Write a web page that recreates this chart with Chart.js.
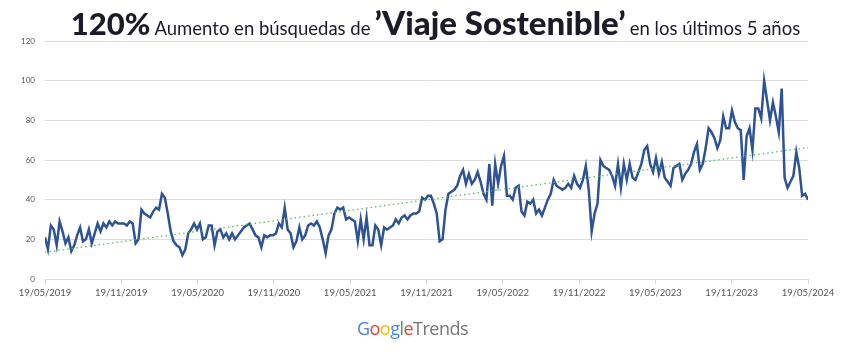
<!DOCTYPE html>
<html>
<head>
<meta charset="utf-8">
<script src="https://cdn.jsdelivr.net/npm/chart.js@4"></script>
<style>
  html, body { margin: 0; padding: 0; background: #ffffff; }
  #wrap { position: relative; width: 855px; height: 357px; overflow: hidden; }
  #title { position: absolute; left: 0; top: 5px; width: 855px; text-align: center; white-space: nowrap;
           font-family: Lato, "Open Sans", sans-serif; color: #1c1c28; line-height: 34px; padding-left: 16px; box-sizing: border-box; }
  #title .big { font-weight: 900; font-size: 31px; }
  #title .vs { font-weight: 900; font-size: 33px; }
  #title .reg { font-weight: 400; font-size: 18.5px; }
  #logo { position: absolute; left: 0; top: 316px; width: 855px; text-align: center;
          font-family: "Open Sans", Lato, sans-serif; font-size: 18px; letter-spacing: -0.5px; padding-right: 30px; box-sizing: border-box; }
  canvas { position: absolute; left: 0; top: 0; }
</style>
</head>
<body>
<div id="wrap">
  <canvas id="c" width="855" height="357"></canvas>
  <div id="title"><span class="big">120%</span> <span class="reg">Aumento en búsquedas de</span> <span class="vs">’Viaje Sostenible’</span> <span class="reg">en los últimos 5 años</span></div>
  <div id="logo"><span style="color:#4285F4">G</span><span style="color:#EA4335">o</span><span style="color:#FBBC05">o</span><span style="color:#4285F4">g</span><span style="color:#34A853">l</span><span style="color:#EA4335">e</span><span style="color:#757575">Trends</span></div>
</div>
<script>
// Weekly search interest (Google Trends, 0-100), 19/05/2019 .. 19/05/2024
const interest = [
  21,15,27,25,17,29,24,18,21,14,
  17,22,26,19,20,25,18,23,28,24,
  28,26,29,27,29,28,28,28,27,29,
  28,18,20,35,33,32,31,34,36,35,
  43,41,33,24,19,17,16,12,15,23,
  25,28,25,28,20,21,27,27,17,24,
  25,21,23,20,23,20,22,24,26,27,
  28,25,22,21,16,22,21,22,22,23,
  28,26,36,25,23,16,19,26,20,22,
  27,28,27,29,26,20,13,22,25,33,
  36,35,36,30,31,30,29,19,30,20,
  31,17,17,27,25,17,26,25,26,27,
  30,28,31,32,30,32,33,33,34,41,
  40,42,42,38,33,19,20,35,43,44,
  45,47,52,55,48,53,48,50,54,49,
  43,40,58,37,58,48,57,62,42,42,
  40,46,47,34,32,39,38,40,33,35,
  32,36,40,43,50,47,46,45,46,48,
  46,52,48,46,50,57,45,24,33,38,
  60,57,56,55,52,47,58,46,58,50,
  58,51,50,54,58,65,67,58,54,61,
  53,59,51,49,47,56,57,58,50,53,
  55,58,64,68,55,58,66,76,74,71,
  66,70,82,76,76,85,79,76,75,50,
  72,76,65,86,86,81,100,90,80,89,
  82,74,96,51,46,49,52,64,56,42,
  43,40
];
// Linear trend line: value at first and last week
const trendEnds = [13.5, 66.3];
// Date tick labels (every 6 months)
const tickLabels = ["19/05/2019","19/11/2019","19/05/2020","19/11/2020","19/05/2021","19/11/2021",
                    "19/05/2022","19/11/2022","19/05/2023","19/11/2023","19/05/2024"];
const yTicks = [0,20,40,60,80,100,120];

const lastWeek = interest.length - 1;
const lineData = interest.map((v, i) => ({x: i, y: v}));
const trendData = [{x: 0, y: trendEnds[0]}, {x: lastWeek, y: trendEnds[1]}];

new Chart(document.getElementById('c'), {
  type: 'line',
  data: {
    datasets: [
      { data: lineData, borderColor: '#2d5394', borderWidth: 2.5, pointRadius: 0, tension: 0, fill: false, order: 2 },
      { data: trendData, borderColor: '#5dbb63', borderWidth: 1.3, borderDash: [1.5, 3], pointRadius: 0, fill: false, order: 1 }
    ]
  },
  options: {
    responsive: false,
    animation: false,
    events: [],
    layout: { padding: { left: 0, right: 47, top: 41, bottom: 0 } },
    plugins: { legend: { display: false }, tooltip: { enabled: false }, title: { display: false } },
    scales: {
      x: {
        type: 'linear', min: 0, max: lastWeek,
        afterBuildTicks: (s) => { s.ticks = tickLabels.map((_, i) => ({ value: i * lastWeek / (tickLabels.length - 1) })); },
        afterFit: (s) => { s.height = 78; },
        grid: { drawOnChartArea: false, drawTicks: true, tickLength: 5, color: '#d9d9d9' },
        border: { display: false },
        ticks: { autoSkip: false, maxRotation: 0, padding: 3, color: '#555555',
                 font: { family: 'Lato, sans-serif', size: 9.5 },
                 callback: (v, i) => tickLabels[i] }
      },
      y: {
        min: yTicks[0], max: yTicks[yTicks.length - 1],
        afterBuildTicks: (s) => { s.ticks = yTicks.map(v => ({ value: v })); },
        afterFit: (s) => { s.width = 45; },
        grid: { color: '#dcdcdc', lineWidth: 1, drawTicks: false },
        border: { display: false },
        ticks: { padding: 10, color: '#555555', font: { family: 'Lato, sans-serif', size: 8 } }
      }
    }
  }
});
</script>
</body>
</html>
